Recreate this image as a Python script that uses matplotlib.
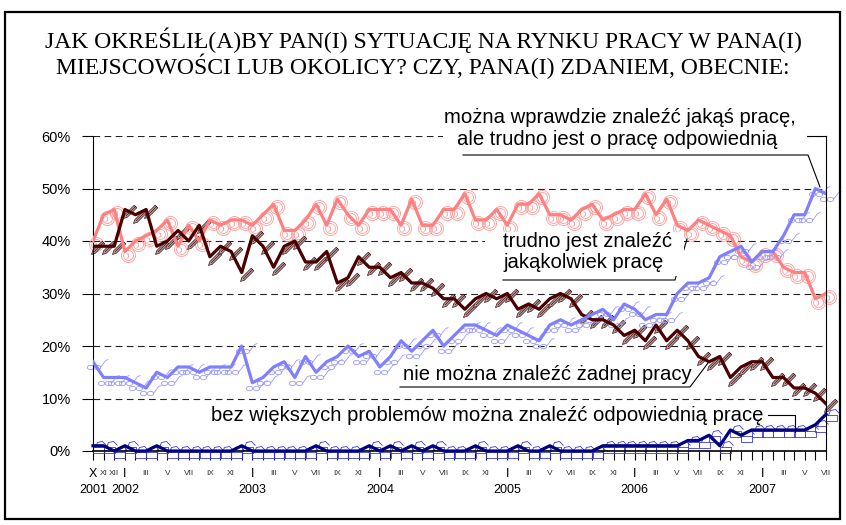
import matplotlib
matplotlib.use("Agg")
import matplotlib.pyplot as plt
import numpy as np
from matplotlib.path import Path
from matplotlib.lines import Line2D
from matplotlib.patches import Rectangle
import matplotlib.transforms as mtransforms

# monthly survey, X 2001 - VII 2007 (percent)
months = ["X", "XI", "XII"] + ["I", "II", "III", "IV", "V", "VI", "VII", "VIII", "IX", "X", "XI", "XII"] * 5 + \
         ["I", "II", "III", "IV", "V", "VI", "VII"]
years = ["2001", "2002", "2003", "2004", "2005", "2006", "2007"]

trudno_jakakolwiek = [40, 45, 46, 38, 40, 41, 42, 44, 39, 43,
                      40, 44, 43, 44, 44, 43, 45, 47, 42, 42,
                      44, 47, 43, 48, 45, 43, 46, 46, 46, 43,
                      48, 43, 43, 46, 46, 49, 44, 44, 46, 43,
                      47, 47, 49, 45, 45, 44, 46, 47, 44, 45,
                      46, 46, 49, 45, 48, 43, 42, 44, 43, 42,
                      41, 37, 36, 38, 38, 35, 34, 34, 29, 30]
trudno_odpowiednia = [17, 14, 14, 14, 13, 12, 15, 14, 16, 16,
                      15, 16, 16, 16, 20, 13, 14, 16, 17, 14,
                      18, 15, 17, 18, 20, 18, 19, 16, 18, 21,
                      19, 21, 23, 20, 22, 24, 24, 23, 22, 24,
                      23, 22, 21, 24, 25, 24, 25, 26, 27, 25,
                      28, 27, 25, 26, 26, 30, 32, 32, 33, 37,
                      38, 39, 36, 38, 38, 41, 45, 45, 50, 49]
nie_mozna = [39, 39, 39, 46, 45, 46, 39, 40, 42, 40,
             43, 37, 39, 38, 34, 41, 39, 35, 39, 40,
             36, 36, 38, 32, 33, 37, 35, 35, 33, 34,
             32, 32, 31, 29, 29, 27, 29, 30, 29, 30,
             27, 28, 27, 29, 30, 29, 26, 25, 25, 24,
             22, 23, 21, 24, 21, 23, 21, 18, 17, 18,
             14, 16, 17, 17, 14, 14, 12, 12, 11, 9]
bez_problemow = [1, 1, 0, 1, 0, 0, 1, 0, 0, 0,
                 0, 0, 0, 0, 1, 0, 0, 0, 0, 0,
                 0, 1, 0, 0, 0, 0, 1, 0, 1, 0,
                 1, 0, 1, 0, 0, 0, 1, 0, 0, 0,
                 1, 0, 0, 1, 0, 0, 0, 0, 1, 1,
                 1, 1, 1, 1, 1, 1, 2, 2, 3, 1,
                 4, 3, 4, 4, 4, 4, 4, 4, 5, 7]

W, H = 846, 525
fig = plt.figure(figsize=(W / 100, H / 100), dpi=100)
fig.patch.set_facecolor("white")


def px(x, y):
    # pixel position (from top-left) -> figure fraction
    return x / W, 1 - y / H


def marker_from(verts, codes=None):
    # marker path in pixel units, origin = data point; returns path and size in pt
    verts = np.asarray(verts, dtype=float)
    size = 2 * np.abs(verts).max() * 0.72
    return Path(verts, codes), size


def ellipse(cx, cy, rx, ry, n=14):
    t = np.linspace(0, 2 * np.pi, n)
    v = np.column_stack([cx + rx * np.cos(t), cy + ry * np.sin(t)])
    c = [Path.MOVETO] + [Path.LINETO] * (n - 1)
    return list(map(tuple, v)), c


# pencil (brown series)
u = np.array([1, 1]) / np.sqrt(2)
n = np.array([-1, 1]) / np.sqrt(2)
p0 = np.array([-2.0, -8.0])
pencil_v = [p0, p0 + 3.5 * u + 1.8 * n, p0 + 17 * u + 1.8 * n, p0 + 17 * u - 1.8 * n, p0 + 3.5 * u - 1.8 * n, p0,
            p0 + 3.5 * u, p0 + 17 * u]
pencil_c = [Path.MOVETO] + [Path.LINETO] * 4 + [Path.CLOSEPOLY, Path.MOVETO, Path.LINETO]
pencil, pencil_size = marker_from(pencil_v, pencil_c)

# glasses (blue series)
gv, gc = [], []
for cx in (-3.0, 4.0):
    v, c = ellipse(cx, -5, 3.2, 2.2)
    gv += v
    gc += c
gv += [(7.2, -4.5), (10, -1), (12, 2), (15, 3)]
gc += [Path.MOVETO, Path.LINETO, Path.LINETO, Path.LINETO]
glasses, glasses_size = marker_from(gv, gc)

# double circle with hook (pink series)
cv, cc = ellipse(3, -3, 7, 7, 22)
v2, c2 = ellipse(3, -3, 5, 5, 18)
cv += v2
cc += c2
cv += [(1, -1), (3, -2), (3, -5), (1, -6)]
cc += [Path.MOVETO, Path.LINETO, Path.LINETO, Path.LINETO]
ring, ring_size = marker_from(cv, cc)

# briefcase (navy series)
bv = [(0, -7), (11, -7), (11, -1), (0, -1), (0, -7),
      (2, -1), (4, 4), (9, 5), (13, 1)]
bc = [Path.MOVETO, Path.LINETO, Path.LINETO, Path.LINETO, Path.CLOSEPOLY,
      Path.MOVETO, Path.LINETO, Path.LINETO, Path.LINETO]
case, case_size = marker_from(bv, bc)

ax = fig.add_axes([93 / W, (H - 451) / H, (826 - 93) / W, (451 - 136) / H])
x = np.arange(len(months))

ax.set_xlim(0, len(months) - 1)
ax.set_ylim(0, 60)
for v in range(10, 61, 10):
    ax.axhline(v, color="#222222", lw=0.8, ls=(0, (6, 4)), zorder=1)

ax.plot(x, trudno_jakakolwiek, ls="none", marker=ring, ms=ring_size, mfc="none",
        mec="#ff9a9a", mew=0.6, clip_on=False, zorder=2)
ax.plot(x, nie_mozna, ls="none", marker=pencil, ms=pencil_size, mfc="#b4a2a2",
        mec="#4a1010", mew=0.5, clip_on=False, zorder=2)
ax.plot(x, trudno_odpowiednia, ls="none", marker=glasses, ms=glasses_size, mfc="none",
        mec="#9a9aff", mew=0.6, clip_on=False, zorder=2)
ax.plot(x, bez_problemow, ls="none", marker=case, ms=case_size, mfc="none",
        mec="#3a3ad0", mew=0.6, clip_on=False, zorder=2)

ax.plot(x, trudno_jakakolwiek, color="#ff8080", lw=2.3, zorder=3)
ax.plot(x, nie_mozna, color="#4a0000", lw=2.3, zorder=3)
ax.plot(x, trudno_odpowiednia, color="#8080ff", lw=2.3, zorder=3)
ax.plot(x, bez_problemow, color="#000080", lw=2.3, zorder=3, clip_on=False)

ax.spines["top"].set_visible(False)
ax.spines["left"].set_linewidth(0.8)
ax.spines["right"].set_linewidth(0.8)
ax.spines["bottom"].set_linewidth(1.2)
ax.plot([len(months) - 2.8, len(months) - 1], [60, 60], color="black", lw=0.8, clip_on=False)

ax.set_yticks(range(0, 61, 10))
ax.set_yticklabels([f"{v}%" for v in range(0, 61, 10)], fontsize=10.5, family="Liberation Sans")
ax.tick_params(axis="y", length=8, width=0.8, pad=8)
ax.set_xticks(x)
ax.set_xticklabels([])
ax.tick_params(axis="x", length=6.5, width=0.8)

trans = mtransforms.blended_transform_factory(ax.transData, ax.transAxes)
yr = 0
for i, m in enumerate(months):
    if i < 3 or m in ("I", "III", "V", "VII", "IX", "XI"):
        big = (i == 0 or m == "I")
        ax.text(i, -0.073, m, transform=trans, ha="center", va="center",
                fontsize=9 if big else 6, color="black" if big else "#333333",
                family="Liberation Sans")
    if i == 0 or m == "I":
        ax.text(i, -0.124, years[yr], transform=trans, ha="center", va="center",
                fontsize=9, family="Liberation Sans")
        yr += 1

# title
tfont = dict(family="Liberation Serif", fontsize=17, ha="center", va="center")
fig.text(*px(423, 40), "JAK OKREŚLIŁ(A)BY PAN(I) SYTUACJĘ NA RYNKU PRACY W PANA(I)", **tfont)
fig.text(*px(423, 66), "MIEJSCOWOŚCI LUB OKOLICY? CZY, PANA(I) ZDANIEM, OBECNIE:", **tfont)

# white label areas hiding the gridlines
for (x0, y0, x1, y1) in [(443, 108, 807, 152), (485, 232, 684, 276)]:
    fx, fy = px(x0, y1)
    fig.add_artist(Rectangle((fx, fy), (x1 - x0) / W, (y1 - y0) / H, transform=fig.transFigure,
                             facecolor="white", edgecolor="none", zorder=2.5))

# series labels with leader lines
lfont = dict(family="Liberation Sans", fontsize=14.6, va="baseline")
fig.text(*px(620, 123), "można wprawdzie znaleźć jakąś pracę,", ha="center", **lfont)
fig.text(*px(617, 145), "ale trudno jest o pracę odpowiednią", ha="center", **lfont)
fig.text(*px(503, 247), "trudno jest znaleźć", ha="left", **lfont)
fig.text(*px(503, 268), "jakąkolwiek pracę", ha="left", **lfont)
fig.text(*px(403, 380), "nie można znaleźć żadnej pracy", ha="left", **lfont)
fig.text(*px(211, 421), "bez większych problemów można znaleźć odpowiednią pracę", ha="left", **lfont)

leaders = [
    [(463, 155), (808, 155), (820, 187)],
    [(503, 280), (675, 280), (687, 239)],
    [(400, 387), (690, 387), (708, 363)],
    [(768, 415), (795, 415), (795, 432)],
]
for pts in leaders:
    xs, ys = zip(*[px(a, b) for a, b in pts])
    fig.add_artist(Line2D(xs, ys, color="black", lw=0.8, transform=fig.transFigure))

# outer frame
fx, fy = px(5, 519)
fig.add_artist(Rectangle((fx, fy), (840 - 5) / W, (519 - 12) / H, transform=fig.transFigure,
                         fill=False, edgecolor="black", lw=1.6))

fig.savefig("out.png", dpi=100)
